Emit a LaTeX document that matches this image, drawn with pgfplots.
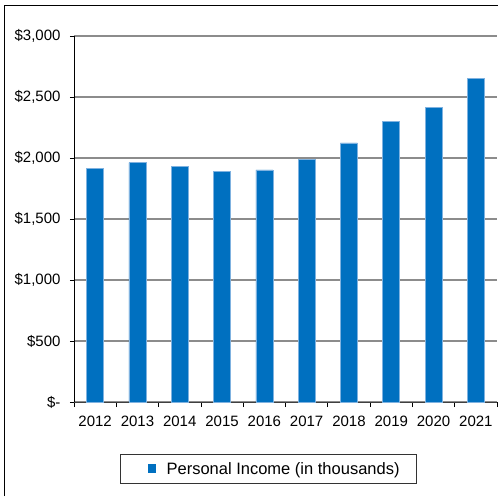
\documentclass[border=0pt]{standalone}
\usepackage{pgfplots}
\pgfplotsset{compat=1.18}
\usepackage{fontspec}
\setmainfont{Liberation Sans}
\definecolor{barblue}{HTML}{0070C0}
\definecolor{baredge}{HTML}{7FB2E0}
\definecolor{gridgray}{HTML}{8C8C8C}
\begin{document}
\begin{tikzpicture}[x=1pt,y=1pt]
\path[use as bounding box] (0,0) rectangle (498,496);
\draw[black, line width=1pt] (4.5,0) -- (4.5,490) -- (498,490);
\begin{axis}[
  at={(74pt,94pt)}, anchor=south west, scale only axis,
  width=423pt, height=366pt,
  xmin=-0.5, xmax=9.5, ymin=0, ymax=3000,
  axis lines*=left,
  x axis line style={draw=black!75, line width=1pt},
  y axis line style={draw=black, line width=0.8pt},
  xtick={0,...,9},
  xticklabels={2012,2013,2014,2015,2016,2017,2018,2019,2020,2021},
  minor xtick={-0.5,0.5,...,9.5},
  major x tick style={draw=none},
  minor x tick style={draw=black, line width=0.8pt},
  minor tick length=5pt,
  ytick={0,500,...,3000},
  yticklabels={\$-,\$500,\$1{,}000,\$1{,}500,\$2{,}000,\$2{,}500,\$3{,}000},
  y tick style={draw=black, line width=0.8pt},
  major tick length=4pt,
  tick align=outside,
  ymajorgrids,
  grid style={draw=gridgray, line width=1.3pt},
  tick label style={font=\fontsize{15}{18}\selectfont},
  xticklabel style={yshift=-6pt},
  yticklabel style={xshift=-6pt},
  ybar, bar width=17pt,
  legend style={at={(0.46,-0.183)}, anchor=center, draw=black!80, line width=1pt,
    font=\fontsize{16.5}{19}\selectfont, inner xsep=0pt, inner ysep=6pt},
  legend image code/.code={\path[draw=none,fill=none] (0pt,0pt) -- (44pt,0pt); \fill[barblue,draw=none] (27pt,-4.5pt) rectangle (35pt,4.5pt);},
]
\addplot[fill=barblue, draw=baredge, line width=0.6pt] coordinates {
 (0,1918) (1,1962) (2,1934) (3,1888) (4,1902) (5,1989) (6,2123) (7,2301) (8,2416) (9,2650)};
\addlegendentry{Personal Income (in thousands)\rule{15pt}{0pt}}
\end{axis}
\end{tikzpicture}
\end{document}
